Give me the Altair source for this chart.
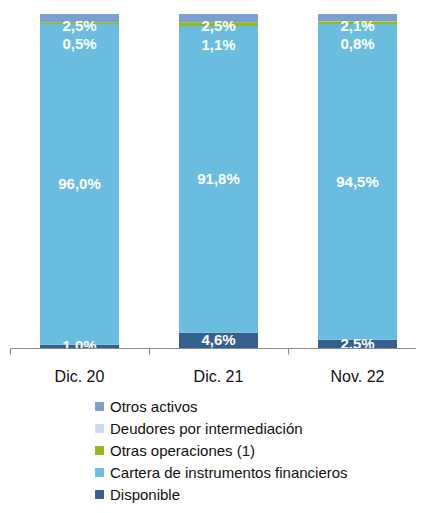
import altair as alt
import pandas as pd

periods = ["Dic. 20", "Dic. 21", "Nov. 22"]
series = ["Disponible", "Cartera de instrumentos financieros", "Otras operaciones (1)",
          "Deudores por intermediación", "Otros activos"]
disponible = [1.0, 4.6, 2.5]
cartera = [96.0, 91.8, 94.5]
otras_op = [0.5, 1.1, 0.8]
deudores = [0.0, 0.0, 0.1]
otros_act = [2.5, 2.5, 2.1]

colors = {
    "Otros activos": "#7b9fd0",
    "Deudores por intermediación": "#cddbee",
    "Otras operaciones (1)": "#95b81e",
    "Cartera de instrumentos financieros": "#6bbde0",
    "Disponible": "#355f8f",
}
legend_order = ["Otros activos", "Deudores por intermediación", "Otras operaciones (1)",
                "Cartera de instrumentos financieros", "Disponible"]

vals = [disponible, cartera, otras_op, deudores, otros_act]
rows = []
for i, p in enumerate(periods):
    base = 0.0
    for k, s in enumerate(series):
        v = vals[k][i]
        rows.append({"periodo": p, "serie": s, "valor": v, "orden": k,
                     "centro": base + v / 2,
                     "etiqueta": f"{v:.1f}%".replace(".", ",")})
        base += v
df = pd.DataFrame(rows)

FONT = "Liberation Sans"

x_scale = alt.Scale(paddingInner=0, paddingOuter=0, range=[0, 417])
x_enc = alt.X("periodo:N", sort=periods, title=None, scale=x_scale,
              axis=alt.Axis(labelAngle=0, bandPosition=0, labelFont=FONT, labelFontSize=16,
                            labelColor="#111111", labelPadding=14, domainColor="#8c8c8c",
                            tickColor="#8c8c8c", tickSize=6, domainWidth=1.2, tickWidth=1.2,
                            grid=False))

bars = alt.Chart(df).mark_bar(size=79).encode(
    x=x_enc,
    y=alt.Y("valor:Q", stack="zero", scale=alt.Scale(domain=[0, 100], nice=False),
            axis=None),
    color=alt.Color("serie:N", sort=legend_order,
                    scale=alt.Scale(domain=legend_order,
                                    range=[colors[s] for s in legend_order]),
                    legend=alt.Legend(title=None, orient="none", legendX=82, legendY=385,
                                      symbolType="square", symbolSize=80,
                                      symbolStrokeWidth=0, labelFont=FONT,
                                      labelFontSize=15, labelColor="#111111",
                                      labelLimit=400,
                                      rowPadding=6, labelOffset=3, symbolOffset=0)),
    order=alt.Order("orden:Q", sort="ascending"),
)

def labels(serie, dy):
    return alt.Chart(df[df.serie == serie]).mark_text(
        font=FONT, fontSize=15, fontWeight="bold", color="white", dy=dy, clip=True
    ).encode(
        x=alt.X("periodo:N", sort=periods, scale=x_scale),
        y=alt.Y("centro:Q"),
        text="etiqueta:N",
    )

chart = alt.layer(
    bars,
    labels("Disponible", 0),
    labels("Cartera de instrumentos financieros", 0),
    labels("Otras operaciones (1)", 21),
    labels("Otros activos", 8),
).properties(
    width=406, height=334,
    autosize=alt.AutoSizeParams(type="none"),
    padding={"left": 2, "top": 6, "right": 0, "bottom": 157},
).configure_view(stroke=None)

chart.save("out.html", embed_options={"renderer": "svg", "actions": False})
